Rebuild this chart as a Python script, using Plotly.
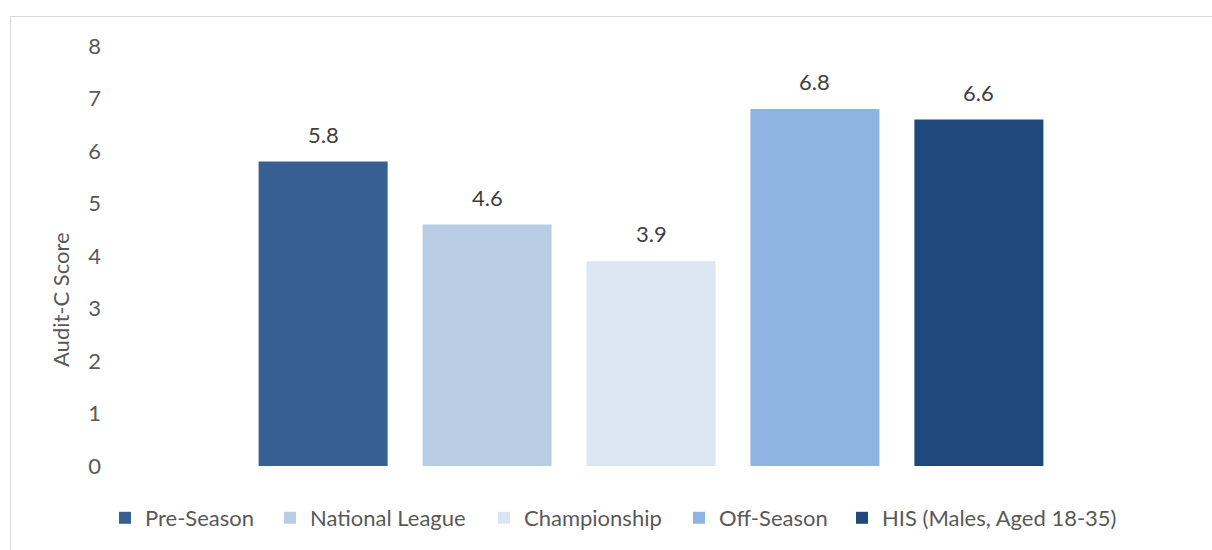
import plotly.graph_objects as go

# Mean Audit-C score per period / comparison group
groups = ["Pre-Season", "National League", "Championship", "Off-Season", "HIS (Males, Aged 18-35)"]
scores = [5.8, 4.6, 3.9, 6.8, 6.6]
colors = ["#376092", "#B9CDE5", "#DCE6F2", "#8EB4E3", "#1F497D"]
y_ticks = [0, 1, 2, 3, 4, 5, 6, 7, 8]
y_title = "Audit-C Score"

W, H = 1212, 550
L, R, T, B = 110, 20, 46, 84
plot_w, plot_h = W - L - R, H - T - B

FONT = "Lato"
FS = 22
TEXT_GREY = "#595959"


def px_x(p):
    """page pixel x -> paper x"""
    return (p - L) / plot_w


def px_y(p):
    """page pixel y -> paper y"""
    return (T + plot_h - p) / plot_h


# left edge (px) of each legend swatch along the bottom row
legend_left = [122, 287, 501, 696, 859]

fig = go.Figure()
legends = {}
for i, (name, val, col) in enumerate(zip(groups, scores, colors)):
    key = "legend" if i == 0 else f"legend{i + 1}"
    fig.add_trace(go.Bar(
        x=[name], y=[val], name=name, legend=key,
        marker=dict(color=col, line=dict(width=0)),
        hoverinfo="name+y",
    ))
    legends[key] = dict(
        orientation="h", x=px_x(legend_left[i] - 17), xanchor="left",
        y=px_y(518), yanchor="middle", bgcolor="rgba(0,0,0,0)",
        font=dict(family=FONT, size=FS, color=TEXT_GREY),
        itemwidth=30, itemclick=False, itemdoubleclick=False,
    )

# value labels above each bar
for name, val in zip(groups, scores):
    fig.add_annotation(
        x=name, y=val, text=f"{val:.1f}", showarrow=False,
        xref="x", yref="y", yanchor="bottom", yshift=12,
        font=dict(family=FONT, size=FS, color="#404040"),
    )

# y-axis title
fig.add_annotation(
    text=y_title, textangle=-90, showarrow=False,
    xref="paper", yref="paper", x=px_x(60), y=px_y(300),
    xanchor="center", yanchor="middle",
    font=dict(family=FONT, size=FS, color=TEXT_GREY),
)

# outer chart border (light grey frame)
fig.add_shape(
    type="rect", xref="paper", yref="paper",
    x0=px_x(10.5), x1=px_x(W + 20),
    y0=px_y(H + 20), y1=px_y(16.5),
    line=dict(color="#D9D9D9", width=1), fillcolor="rgba(0,0,0,0)", layer="below",
)

fig.update_layout(
    width=W, height=H,
    margin=dict(l=L, r=R, t=T, b=B, autoexpand=False),
    paper_bgcolor="white", plot_bgcolor="white",
    barmode="overlay", bargap=0.213,
    font=dict(family=FONT, size=FS, color=TEXT_GREY),
    showlegend=True,
    xaxis=dict(
        type="category", range=[-1.3, 5.3], showticklabels=False,
        showgrid=False, zeroline=False, showline=False, fixedrange=True,
    ),
    yaxis=dict(
        range=[0, 8], tickvals=y_ticks, showgrid=False, zeroline=False,
        showline=False, ticks="", ticklabelstandoff=8,
        tickfont=dict(family=FONT, size=FS, color=TEXT_GREY),
        automargin=False, fixedrange=True,
    ),
    **legends,
)

fig.write_html("out.html")
